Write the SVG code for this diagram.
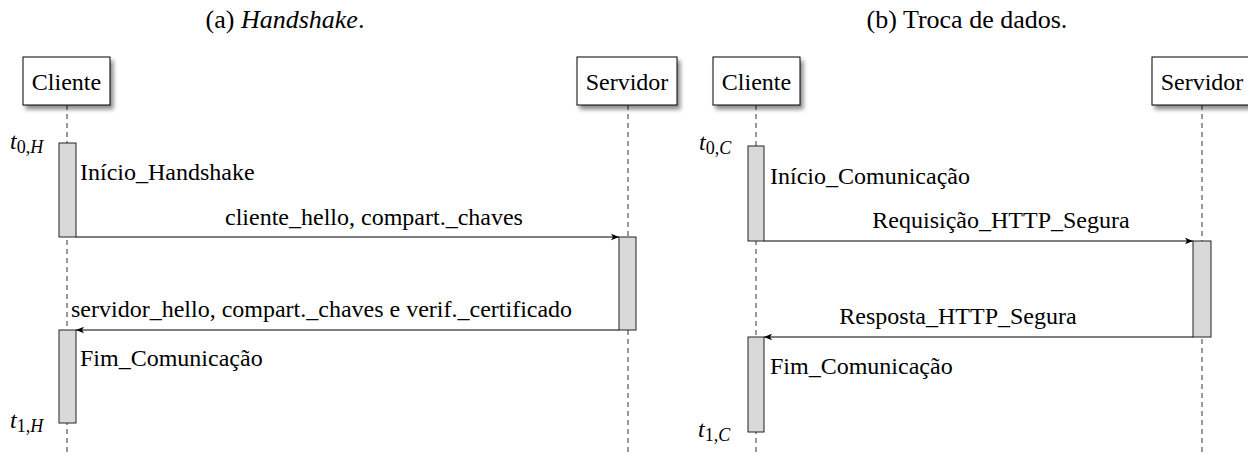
<svg xmlns="http://www.w3.org/2000/svg" width="1248" height="455" viewBox="0 0 1248 455" font-family="'Liberation Serif', Tinos, 'Times New Roman', 'DejaVu Serif', serif">
<defs>
<style>
text{fill:#000;font-family:'Liberation Serif', Tinos, 'Times New Roman', 'DejaVu Serif', serif;}
.t{font-size:24px;}
.cap{font-size:26px;}
.it{font-style:italic;}
.sub{font-size:18px;}
.box{fill:#fff;stroke:#000;stroke-width:1;}
.act{fill:#d9d9d9;stroke:#222;stroke-width:1;}
.life{stroke:#333;stroke-width:1;stroke-dasharray:5 4;fill:none;}
.msg{stroke:#000;stroke-width:1;fill:none;marker-end:url(#arr);}
</style>
<filter id="sh" x="-20%" y="-20%" width="150%" height="160%">
<feGaussianBlur in="SourceAlpha" stdDeviation="2"/>
<feOffset dx="3" dy="4" result="b"/>
<feComponentTransfer><feFuncA type="linear" slope="0.45"/></feComponentTransfer>
<feMerge><feMergeNode/><feMergeNode in="SourceGraphic"/></feMerge>
</filter>
<marker id="arr" viewBox="0 0 10 10" refX="10" refY="5" markerWidth="8" markerHeight="8" markerUnits="userSpaceOnUse" orient="auto">
<path d="M0,1 L10,5 L0,9 L2.5,5 Z" fill="#000"/>
</marker>
</defs>
<rect width="1248" height="455" fill="#fff"/>

<text class="cap" x="285" y="28" text-anchor="middle">(a) <tspan class="it">Handshake</tspan>.</text>
<text class="cap" x="967" y="28" text-anchor="middle">(b) Troca de dados.</text>

<g id="lifelines">
<line class="life" x1="67" y1="105" x2="67" y2="455"/>
<line class="life" x1="628" y1="105" x2="628" y2="455"/>
<line class="life" x1="756" y1="105" x2="756" y2="455"/>
<line class="life" x1="1202" y1="105" x2="1202" y2="455"/>
</g>

<g id="cliente-a">
<rect class="box" x="23" y="57" width="87" height="48" filter="url(#sh)"/>
<text class="t" x="66.5" y="90" text-anchor="middle">Cliente</text>
</g>
<g id="servidor-a">
<rect class="box" x="577" y="57" width="100" height="48" filter="url(#sh)"/>
<text class="t" x="627" y="90" text-anchor="middle">Servidor</text>
</g>
<g id="cliente-b">
<rect class="box" x="713" y="57" width="87" height="48" filter="url(#sh)"/>
<text class="t" x="756.5" y="90" text-anchor="middle">Cliente</text>
</g>
<g id="servidor-b">
<rect class="box" x="1152" y="57" width="100" height="48" filter="url(#sh)"/>
<text class="t" x="1202" y="90" text-anchor="middle">Servidor</text>
</g>

<g id="activations">
<rect class="act" x="59" y="143" width="17" height="94"/>
<rect class="act" x="619" y="237" width="17" height="93"/>
<rect class="act" x="59" y="330" width="17" height="93"/>
<rect class="act" x="748" y="146" width="16" height="95"/>
<rect class="act" x="1193" y="241" width="18" height="96"/>
<rect class="act" x="748" y="337" width="16" height="95"/>
</g>

<g id="connectors">
<line class="msg" x1="76" y1="237" x2="619" y2="237"/>
<line class="msg" x1="619" y1="330" x2="76" y2="330"/>
<line class="msg" x1="764" y1="241" x2="1193" y2="241"/>
<line class="msg" x1="1193" y1="337" x2="764" y2="337"/>
</g>

<g id="labels-a">
<text class="t" x="10" y="149"><tspan class="it">t</tspan><tspan class="sub" dy="4">0,</tspan><tspan class="sub it">H</tspan></text>
<text class="t" x="80" y="180">Início_Handshake</text>
<text class="t" x="374" y="225" text-anchor="middle">cliente_hello, compart._chaves</text>
<text class="t" x="71" y="317">servidor_hello, compart._chaves e verif._certificado</text>
<text class="t" x="80" y="366">Fim_Comunicação</text>
<text class="t" x="10" y="428"><tspan class="it">t</tspan><tspan class="sub" dy="4">1,</tspan><tspan class="sub it">H</tspan></text>
</g>

<g id="labels-b">
<text class="t" x="699" y="150"><tspan class="it">t</tspan><tspan class="sub" dy="4">0,</tspan><tspan class="sub it">C</tspan></text>
<text class="t" x="770" y="184">Início_Comunicação</text>
<text class="t" x="1001" y="228" text-anchor="middle">Requisição_HTTP_Segura</text>
<text class="t" x="958" y="324" text-anchor="middle">Resposta_HTTP_Segura</text>
<text class="t" x="770" y="374">Fim_Comunicação</text>
<text class="t" x="698" y="437"><tspan class="it">t</tspan><tspan class="sub" dy="4">1,</tspan><tspan class="sub it">C</tspan></text>
</g>
</svg>
